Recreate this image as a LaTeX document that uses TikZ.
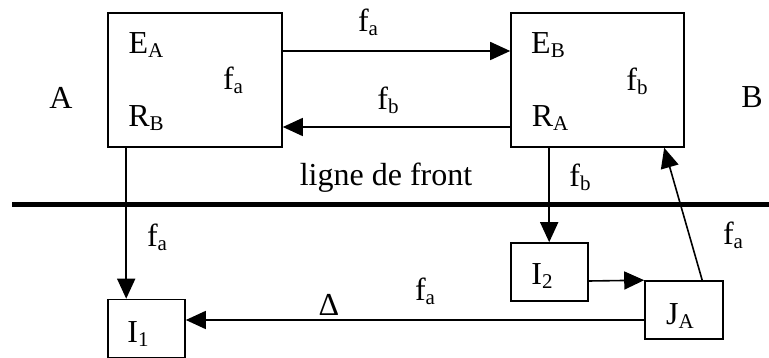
\documentclass[tikz,border=0pt]{standalone}
\usepackage{fontspec}
\setmainfont{Liberation Serif}
\usetikzlibrary{arrows.meta,calc}

\newcommand\indice[1]{\raisebox{-4pt}{\fontsize{21}{21}\selectfont #1}}

\tikzset{
  zone/.style={draw, line width=1.6pt, minimum width=174pt, minimum height=134pt, inner sep=0pt},
  petit/.style={draw, line width=1.6pt, minimum width=77pt, minimum height=58pt, inner sep=0pt},
  lbl/.style={anchor=base, inner sep=0pt, font=\fontsize{32}{38}\selectfont},
  fl/.style={line width=1.6pt, -{Triangle[length=20pt,width=18pt]}}
}

\begin{document}
\begin{tikzpicture}[x=1pt,y=-1pt]
        \useasboundingbox (0,0) rectangle (769,358);

        % les deux zones et les petites boites
        \node [zone] (za) at (195,80) {};
        \node [zone, minimum width=173pt] (zb) at (597.5,80) {};
        \node [petit] (i1) at (146.5,328.5) {};
        \node [petit] (i2) at (549.5,272) {};
        \node [petit, minimum width=78pt] (ja) at (684,310) {};

        % ligne de front
        \coordinate (fg) at (12,204.5);
        \coordinate (fd) at (769,204.5);
        \draw [line width=4.5pt] (fg) -- (fd);
        \node [lbl] (lf) at (386,186) {ligne de front};

        % fleches
        \draw [fl] ([yshift=29pt]za.east) coordinate (p1) -- (p1 -| zb.west);
        \draw [fl] ([yshift=-47pt]zb.west) coordinate (p2) -- (p2 -| za.east);
        \draw [fl] ([xshift=19pt]za.south west) -- ([xshift=19pt]i1.north west);
        \draw [fl] ([xshift=39pt]zb.south west) -- ([xshift=39pt]i2.north west);
        \draw [fl] ([yshift=-9pt]i2.east) -- (ja.north west);
        \draw [fl] ([yshift=-10pt]ja.west) coordinate (p3) -- (p3 -| i1.east);
        \draw [fl] ([xshift=58pt]ja.north west) -- ([xshift=154pt]zb.south west);

        % textes
        \node [lbl] (la) at (61,109) {A};
        \node [lbl] (lb) at (752,108) {B};
        \node [lbl] (ea) at (146,54) {E\indice{A}};
        \node [lbl] (rb) at (146,127) {R\indice{B}};
        \node [lbl] (fa1) at (233,90) {f\indice{a}};
        \node [lbl] (eb) at (548,54) {E\indice{B}};
        \node [lbl] (ra) at (550,127) {R\indice{A}};
        \node [lbl] (fb1) at (637,91) {f\indice{b}};
        \node [lbl] (fa2) at (368,32) {f\indice{a}};
        \node [lbl] (fb2) at (388,110) {f\indice{b}};
        \node [lbl] (fa3) at (157,247) {f\indice{a}};
        \node [lbl] (fb3) at (580,187) {f\indice{b}};
        \node [lbl] (fa4) at (733,245) {f\indice{a}};
        \node [lbl] (fa5) at (425,301) {f\indice{a}};
        \node [lbl] (dl) at (329,316) {Δ};
        \node [lbl] (ti1) at (138,342) {I\indice{1}};
        \node [lbl] (ti2) at (542,285) {I\indice{2}};
        \node [lbl] (tja) at (680,324) {J\indice{A}};
\end{tikzpicture}
\end{document}
